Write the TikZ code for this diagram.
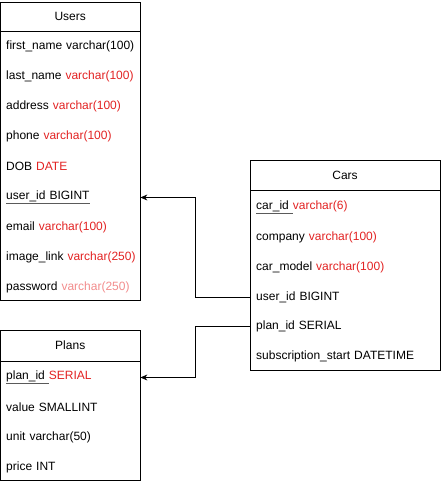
\documentclass[tikz,border=0pt]{standalone}
\usepackage{fontspec}
\setmainfont{Liberation Sans}
\usetikzlibrary{arrows.meta}
\definecolor{typered}{RGB}{226,34,34}
\definecolor{typepink}{RGB}{242,140,140}
\definecolor{keygray}{RGB}{90,90,90}
\newcommand{\tred}[1]{\textcolor{typered}{#1}}
\newcommand{\tpink}[1]{\textcolor{typepink}{#1}}
\newcommand{\pkey}[1]{\rlap{\textcolor{keygray}{\underline{\phantom{#1}}}}#1}

\begin{document}
\begin{tikzpicture}[x=1pt,y=-1pt,
    every node/.style={font=\fontsize{12}{14}\selectfont},
    tabbox/.style={draw,line width=0.9pt},
    tabhead/.style={draw,line width=0.9pt,inner sep=0pt,minimum height=29pt},
    field/.style={anchor=west,inner xsep=6pt,inner ysep=0pt,minimum height=30pt,align=left,
        yshift=-1.5pt,execute at begin node=\hbox\bgroup,execute at end node=\egroup},
    fklink/.style={line width=0.9pt,-{Stealth[length=7pt,width=6pt]}}]
    \useasboundingbox (0,0) rectangle (441,481);

    % Users
    \draw[tabbox] (0.5,2) rectangle (140,300);
    \node[tabhead,minimum width=139.5pt] (users) at (70.25,16.5) {Users};
    \node[field,text width=128pt] (u1) at (0,45) {first\_name varchar(100)};
    \node[field,text width=128pt] (u2) at (0,75) {last\_name \tred{varchar(100)}};
    \node[field,text width=128pt] (u3) at (0,105) {address \tred{varchar(100)}};
    \node[field,text width=128pt] (u4) at (0,135) {phone \tred{varchar(100)}};
    \node[field,text width=128pt] (u5) at (0,165) {DOB \tred{DATE}};
    \node[field,text width=128pt] (uid) at (0,196) {\pkey{user\_id BIGINT}};
    \node[field,text width=128pt] (u7) at (0,226) {email \tred{varchar(100)}};
    \node[field,text width=128pt] (u8) at (0,256) {image\_link \tred{varchar(250)}};
    \node[field,text width=128pt] (u9) at (0,286) {password \tpink{varchar(250)}};

    % Plans
    \draw[tabbox] (0.5,330) rectangle (140,480);
    \node[tabhead,minimum width=139.5pt,minimum height=31pt] (plans) at (70.25,345.5) {Plans};
    \node[field,text width=128pt] (pid) at (0,376) {\pkey{plan\_id\ }\tred{SERIAL}};
    \node[field,text width=128pt] (p2) at (0,406) {value SMALLINT};
    \node[field,text width=128pt] (p3) at (0,436) {unit varchar(50)};
    \node[field,text width=128pt] (p4) at (0,466) {price INT};

    % Cars
    \draw[tabbox] (250,160) rectangle (440,370);
    \node[tabhead,minimum width=190pt,minimum height=30pt] (cars) at (345,175) {Cars};
    \node[field,text width=178pt] (cid) at (250,206) {\pkey{car\_id\ }\tred{varchar(6)}};
    \node[field,text width=178pt] (c2) at (250,236) {company \tred{varchar(100)}};
    \node[field,text width=178pt] (c3) at (250,266) {car\_model \tred{varchar(100)}};
    \node[field,text width=178pt] (cuid) at (250,296) {user\_id BIGINT};
    \node[field,text width=178pt] (cpid) at (250,325) {plan\_id SERIAL};
    \node[field,text width=178pt] (c6) at (250,355) {subscription\_start DATETIME};

    % foreign keys
    \draw[fklink] (cuid.west) -- ++(-55,0) |- (uid.east);
    \draw[fklink] (cpid.west) -- ++(-55,0) |- (pid.east);
\end{tikzpicture}
\end{document}
